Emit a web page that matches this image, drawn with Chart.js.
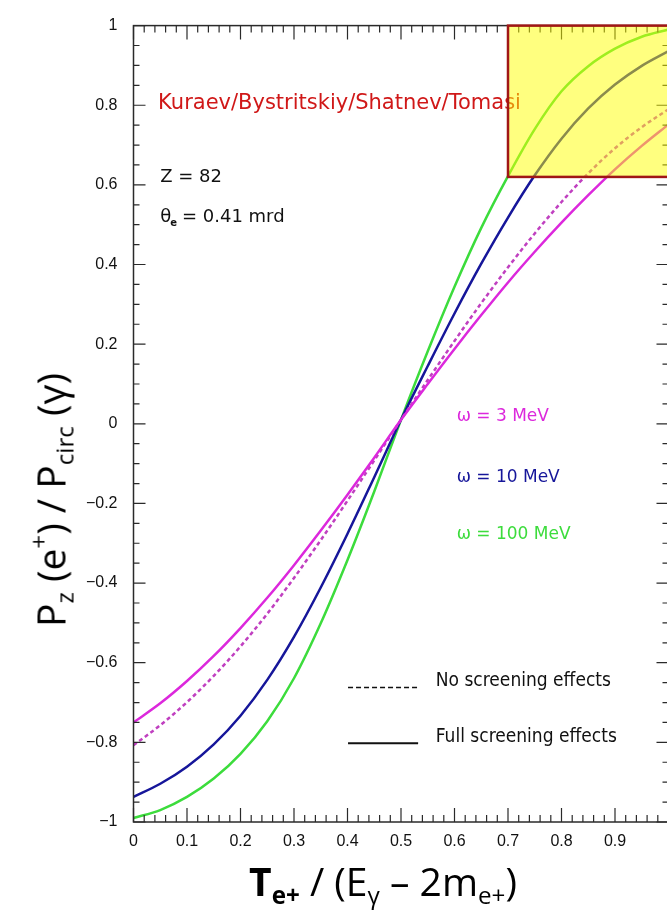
<!DOCTYPE html>
<html>
<head>
<meta charset="utf-8">
<script src="https://cdn.jsdelivr.net/npm/chart.js@4.4.1/dist/chart.umd.min.js"></script>
<style>
  html, body { margin: 0; padding: 0; background: #fff; overflow: hidden; }
  #wrap { position: relative; width: 667px; height: 917px; overflow: hidden; }
  #myChart { position: absolute; left: 0; top: 0; }
  .title { position: absolute; white-space: nowrap; color: #000; font-family: "Open Sans", "Noto Sans", sans-serif; font-size: 39px; line-height: 1; }
  .title sub, .title sup { font-size: 0.62em; line-height: 0; }
  .title sub { vertical-align: -0.35em; }
  .title sup { vertical-align: 0.75em; }
  #ytitle { left: 50px; top: 500px; transform: translate(-50%, -50%) rotate(-90deg); }
  #xtitle { left: 383px; top: 880px; transform: translate(-50%, -50%); }
  #xtitle b { font-weight: 700; }
</style>
</head>
<body>
<div id="wrap">
  <canvas id="myChart" width="680" height="917"></canvas>
  <div class="title" id="ytitle">P<sub>z</sub> (e<sup>+</sup>) / P<sub>circ</sub> (γ)</div>
  <div class="title" id="xtitle"><b>T<sub>e+</sub></b> / (E<sub>γ</sub> – 2m<sub>e+</sub>)</div>
</div>
<script>

// x = T(e+) / (E_gamma - 2 m_e+)
var xValues = [0, 0.05, 0.1, 0.15, 0.2, 0.25, 0.3, 0.35, 0.4, 0.45, 0.5,
               0.55, 0.6, 0.65, 0.7, 0.75, 0.8, 0.85, 0.9, 0.95, 1];

// Pz(e+) / Pcirc(gamma)
var pz3MeV = [-0.75, -0.702, -0.646, -0.583, -0.513, -0.437, -0.355, -0.268, -0.178, -0.085, 0.01,
              0.10, 0.188, 0.273, 0.355, 0.432, 0.505, 0.574, 0.639, 0.698, 0.752];
var pz3MeVNoScreening = [-0.807, -0.757, -0.699, -0.633, -0.559, -0.477, -0.387, -0.292, -0.193, -0.092, 0.01,
                         0.11, 0.208, 0.303, 0.393, 0.478, 0.557, 0.629, 0.692, 0.745, 0.79];
var pz10MeV = [-0.937, -0.904, -0.861, -0.805, -0.733, -0.643, -0.535, -0.411, -0.276, -0.134, 0.01,
               0.145, 0.277, 0.402, 0.518, 0.624, 0.716, 0.792, 0.852, 0.899, 0.936];
var pz100MeV = [-0.99, -0.97, -0.937, -0.891, -0.829, -0.747, -0.639, -0.501, -0.342, -0.17, 0.01,
                0.182, 0.344, 0.492, 0.622, 0.74, 0.835, 0.898, 0.942, 0.972, 0.99];

var seriesLabels = ['ω = 3 MeV', 'ω = 3 MeV (no screening)', 'ω = 10 MeV', 'ω = 100 MeV'];
var seriesColors = ['#dc28dc', '#c040c0', '#16169a', '#3cdc3c'];

// highlighted region (x from, x to, y from, y to)
var boxX = [0.7, 1];
var boxY = [0.62, 1];

function toPoints(values) {
  return values.map(function(v, i) { return { x: xValues[i], y: v }; });
}

function fmtTick(value) {
  if (Math.abs(value) < 1e-9) return '0';
  var s = String(Math.round(value * 100) / 100);
  return s.replace('-', '\u2212');
}

var annotationPlugin = {
  id: 'annotations',
  afterDatasetsDraw: function(chart) {
    var ctx = chart.ctx;
    var a = chart.chartArea;
    var xs = chart.scales.x;
    var ys = chart.scales.y;

    ctx.save();

    // frame
    ctx.strokeStyle = '#2a2a2a';
    ctx.lineWidth = 1.5;
    ctx.strokeRect(a.left, a.top, a.right - a.left, a.bottom - a.top);

    // inward ticks
    ctx.lineWidth = 1.2;
    ctx.beginPath();
    for (var i = 0; i <= 40; i++) {
      var py = ys.getPixelForValue(-1 + i * 0.05);
      var len = (i % 4 === 0) ? 12 : 6;
      ctx.moveTo(a.left, py); ctx.lineTo(a.left + len, py);
      ctx.moveTo(a.right, py); ctx.lineTo(a.right - len, py);
    }
    for (var j = 0; j <= 50; j++) {
      var px = xs.getPixelForValue(j * 0.02);
      var l2 = (j % 5 === 0) ? 14 : 7;
      ctx.moveTo(px, a.bottom); ctx.lineTo(px, a.bottom - l2);
      ctx.moveTo(px, a.top); ctx.lineTo(px, a.top + l2);
    }
    ctx.stroke();

    ctx.textBaseline = 'middle';
    ctx.textAlign = 'left';

    // authors
    ctx.fillStyle = '#d01818';
    ctx.font = '21px "DejaVu Sans"';
    ctx.fillText('Kuraev/Bystritskiy/Shatnev/Tomasi', xs.getPixelForValue(0.046), ys.getPixelForValue(0.803));

    // Z and theta
    ctx.fillStyle = '#111';
    ctx.font = '18px "DejaVu Sans"';
    var tx = xs.getPixelForValue(0.05);
    ctx.fillText('Z = 82', tx, ys.getPixelForValue(0.619));
    var ty = ys.getPixelForValue(0.519);
    ctx.fillText('θ', tx, ty);
    var w = ctx.measureText('θ').width;
    ctx.font = 'bold 10px "DejaVu Sans"';
    ctx.fillText('e', tx + w - 1, ty + 6);
    ctx.font = '18px "DejaVu Sans"';
    ctx.fillText(' = 0.41 mrd', tx + w + 5, ty);

    // omega labels
    ctx.font = '17px "DejaVu Sans"';
    var omegaY = [0.019, -0.135, -0.279];
    var omegaText = ['ω = 3 MeV', 'ω = 10 MeV', 'ω = 100 MeV'];
    var omegaColor = [seriesColors[0], seriesColors[2], seriesColors[3]];
    for (var k = 0; k < 3; k++) {
      ctx.fillStyle = omegaColor[k];
      ctx.fillText(omegaText[k], xs.getPixelForValue(0.604), ys.getPixelForValue(omegaY[k]));
    }

    // line-style legend
    ctx.strokeStyle = '#111';
    ctx.lineWidth = 1.5;
    var lx0 = xs.getPixelForValue(0.401), lx1 = xs.getPixelForValue(0.532);
    ctx.setLineDash([5, 3]);
    ctx.beginPath();
    ctx.moveTo(lx0, ys.getPixelForValue(-0.662)); ctx.lineTo(lx1, ys.getPixelForValue(-0.662));
    ctx.stroke();
    ctx.setLineDash([]);
    ctx.lineWidth = 2;
    ctx.beginPath();
    ctx.moveTo(lx0, ys.getPixelForValue(-0.802)); ctx.lineTo(lx1, ys.getPixelForValue(-0.802));
    ctx.stroke();
    ctx.fillStyle = '#111';
    ctx.font = '19px "DejaVu Sans Condensed", "DejaVu Sans"';
    ctx.fillText('No screening effects', xs.getPixelForValue(0.565), ys.getPixelForValue(-0.645));
    ctx.fillText('Full screening effects', xs.getPixelForValue(0.565), ys.getPixelForValue(-0.787));

    ctx.restore();
  },
  afterDraw: function(chart) {
    var ctx = chart.ctx;
    var xs = chart.scales.x;
    var ys = chart.scales.y;
    var x0 = xs.getPixelForValue(boxX[0]), x1 = xs.getPixelForValue(boxX[1]);
    var y0 = ys.getPixelForValue(boxY[1]), y1 = ys.getPixelForValue(boxY[0]);
    ctx.save();
    ctx.fillStyle = 'rgba(255, 255, 0, 0.5)';
    ctx.fillRect(x0, y0, x1 - x0, y1 - y0);
    ctx.strokeStyle = '#a01616';
    ctx.lineWidth = 2.5;
    ctx.strokeRect(x0, y0, x1 - x0, y1 - y0);
    ctx.restore();
  }
};

function makeChart() {
  var ctx = document.getElementById('myChart').getContext('2d');
  var chart = new Chart(ctx, {
    type: 'line',
    data: {
      datasets: [{
        label: seriesLabels[0],
        data: toPoints(pz3MeV),
        borderColor: seriesColors[0],
        borderWidth: 2.5
      }, {
        label: seriesLabels[1],
        data: toPoints(pz3MeVNoScreening),
        borderColor: seriesColors[1],
        borderWidth: 2.5,
        borderDash: [4, 3]
      }, {
        label: seriesLabels[2],
        data: toPoints(pz10MeV),
        borderColor: seriesColors[2],
        borderWidth: 2.5
      }, {
        label: seriesLabels[3],
        data: toPoints(pz100MeV),
        borderColor: seriesColors[3],
        borderWidth: 2.5
      }]
    },
    options: {
      responsive: false,
      animation: false,
      layout: { padding: { left: 0, right: 11.5, top: 18, bottom: 0 } },
      elements: {
        point: { radius: 0 },
        line: { cubicInterpolationMode: 'monotone', fill: false }
      },
      plugins: {
        legend: { display: false },
        tooltip: { enabled: false }
      },
      scales: {
        x: {
          type: 'linear',
          min: 0,
          max: 1,
          grid: { display: false, drawTicks: false },
          border: { display: false },
          ticks: {
            stepSize: 0.1,
            padding: 10,
            color: '#111',
            font: { family: 'Liberation Sans', size: 16 },
            maxRotation: 0,
            callback: function(v) { return v >= 0.999 ? '' : fmtTick(v); }
          },
          afterFit: function(scale) { scale.height = 95; }
        },
        y: {
          min: -1,
          max: 1,
          grid: { display: false, drawTicks: false },
          border: { display: false },
          ticks: {
            stepSize: 0.2,
            padding: 16,
            color: '#111',
            font: { family: 'Liberation Sans', size: 16 },
            callback: function(v) { return fmtTick(v); }
          },
          afterFit: function(scale) { scale.width = 133.5; }
        }
      }
    },
    plugins: [annotationPlugin]
  });
}

makeChart();
</script>
</body>
</html>
